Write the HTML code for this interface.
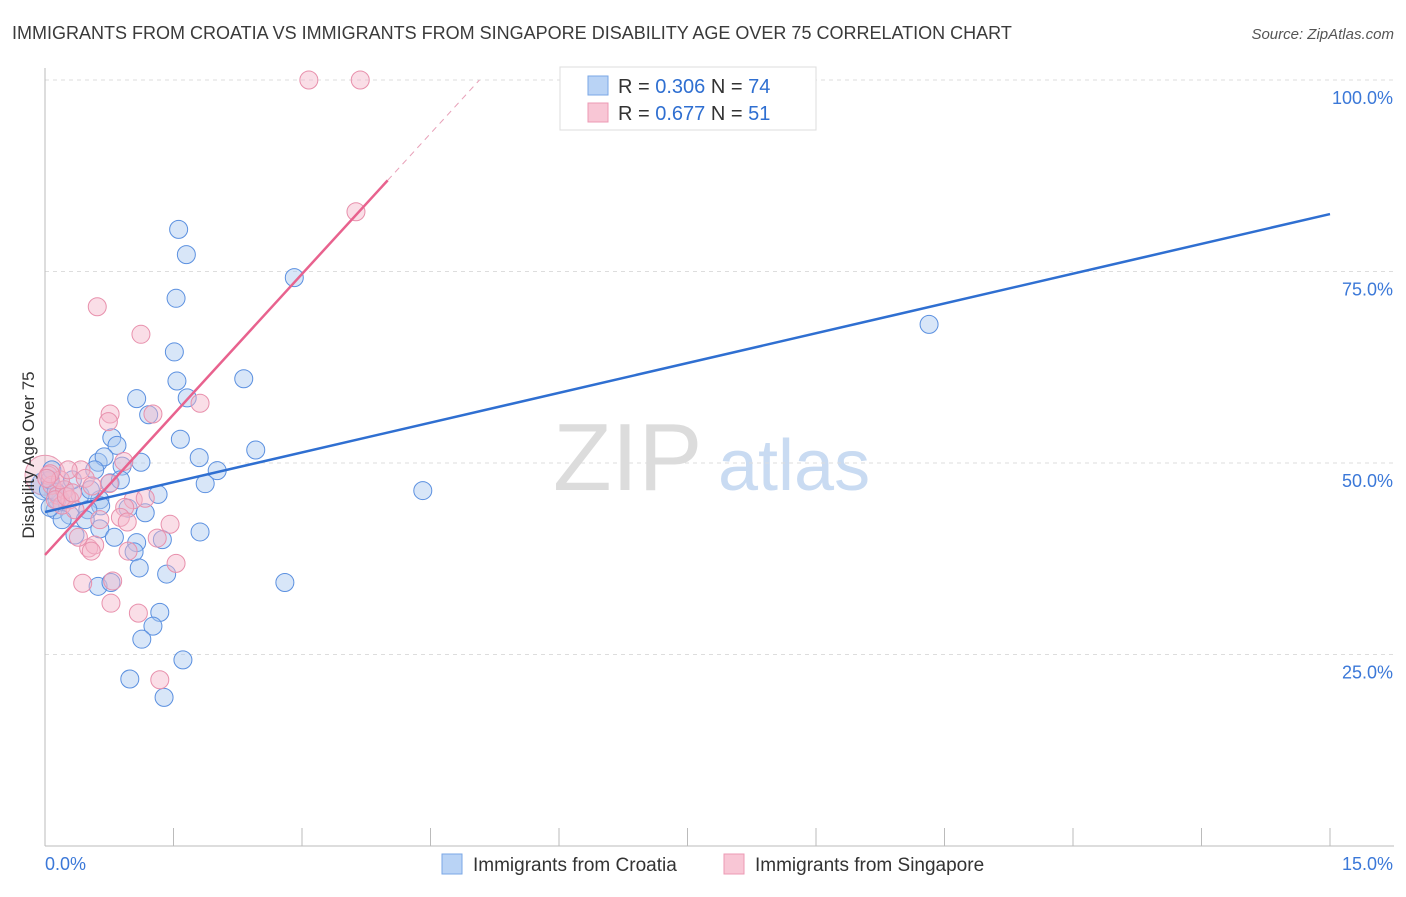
<!DOCTYPE html>
<html><head><meta charset="utf-8"><style>
body{margin:0;background:#fff;font-family:"Liberation Sans",sans-serif;}
svg text{font-family:"Liberation Sans",sans-serif;}
</style></head><body>
<svg id="chart" width="1406" height="892" xmlns="http://www.w3.org/2000/svg">
<text x="12" y="39" font-size="18" fill="#3a3a3a">IMMIGRANTS FROM CROATIA VS IMMIGRANTS FROM SINGAPORE DISABILITY AGE OVER 75 CORRELATION CHART</text>
<text x="1394" y="39" font-size="15" fill="#555" font-style="italic" text-anchor="end">Source: ZipAtlas.com</text>
<text x="553" y="490" font-size="96" fill="#dcdcdc" font-family="Liberation Serif, serif">ZIP</text>
<text x="718" y="490" font-size="72" fill="#c9dbf2">atlas</text>
<g id="grid"></g>
<g id="axes"></g>
<g id="marks"></g>
<text transform="translate(34,455) rotate(-90)" font-size="17" fill="#333" text-anchor="middle">Disability Age Over 75</text>
<g>
<rect x="560" y="67" width="256" height="63" fill="#fff" stroke="#ddd"/>
<rect x="588" y="76" width="20" height="19" fill="#b9d3f5" stroke="#7aa7e6"/>
<rect x="588" y="103" width="20" height="19" fill="#f8c6d5" stroke="#ec9ab4"/>
<text x="618" y="93" font-size="20" fill="#333">R = <tspan fill="#2f6fd1">0.306</tspan>   N = <tspan fill="#2f6fd1">74</tspan></text>
<text x="618" y="120" font-size="20" fill="#333">R =  <tspan fill="#2f6fd1">0.677</tspan>   N =  <tspan fill="#2f6fd1">51</tspan></text>
</g>
<g>
<rect x="442" y="854" width="20" height="20" fill="#b9d3f5" stroke="#7aa7e6"/>
<text x="473" y="871" font-size="19" fill="#333">Immigrants from Croatia</text>
<rect x="724" y="854" width="20" height="20" fill="#f8c6d5" stroke="#ec9ab4"/>
<text x="755" y="871" font-size="19" fill="#333">Immigrants from Singapore</text>
</g>
</svg>
<script>
const yTicks=[25,50,75,100];
const yTickLabels=["25.0%","50.0%","75.0%","100.0%"];
const xTickLabels=["0.0%","15.0%"];
const croatiaX=[1.56,1.65,1.53,2.91,10.32,1.51,1.54,2.32,1.07,1.66,1.21,1.58,0.78,0.84,2.46,0.62,0.69,0.90,1.12,1.80,2.01,1.87,0.76,1.32,4.41,0.64,0.65,0.97,1.17,0.50,0.18,0.12,0.29,0.20,0.35,0.64,0.81,1.81,1.07,1.37,1.04,1.10,1.42,0.62,0.77,2.80,1.34,1.26,1.13,1.61,0.99,1.39,0.04,0.06,0.08,0.14,0.23,0.41,0.53,0.32,0.47,0.88,0.58,0.06,0.13];
const croatiaY=[80.5,77.2,71.5,74.2,68.1,64.5,60.7,61.0,58.4,58.5,56.3,53.1,53.3,52.3,51.7,50.1,50.8,49.6,50.1,50.7,49.0,47.3,47.4,45.9,46.4,45.2,44.4,44.1,43.5,43.9,45.2,43.9,43.2,42.6,40.6,41.4,40.3,41.0,39.6,40.0,38.4,36.3,35.5,33.9,34.4,34.4,30.5,28.7,27.0,24.3,21.8,19.4,46.5,47.8,49.1,45.2,46.5,45.8,46.5,47.8,42.6,47.8,49.1,44.2,46.2];
const singaporeX=[3.08,3.68,3.63,0.61,1.12,1.81,0.76,0.74,1.26,0.92,0.42,1.03,0.75,0.93,1.17,0.88,0.96,1.46,1.31,0.51,0.58,0.54,0.97,1.53,0.44,0.79,0.77,1.09,1.34,0.04,0.08,0.15,0.20,0.23,0.29,0.35,0.12,0.18,0.27,0.47,0.55,0.64,0.39,0.25,0.32,0.06,0.02];
const singaporeY=[100,100,82.8,70.4,66.8,57.8,56.4,55.4,56.4,50.2,49.1,45.2,47.3,44.2,45.4,42.9,42.3,42.0,40.2,38.9,39.3,38.5,38.5,36.9,34.3,34.6,31.7,30.4,21.7,48.4,47.1,45.8,44.5,46.5,45.2,43.9,45.2,47.8,49.1,48.0,47.0,42.6,40.3,45.6,46.1,48.6,48.0];
const blueLine=[43.6,82.5];
const pinkLine=[38.0,86.9];
const pinkSolidEnd=4.0;
const NS="http://www.w3.org/2000/svg";
const X0=45,X1=1330,Y0=846,Y100=80;
const xs=v=>X0+v*(X1-X0)/15;
const ys=v=>Y0-v*(Y0-Y100)/100;
function mk(tag,attrs,parent){const e=document.createElementNS(NS,tag);for(const k in attrs)e.setAttribute(k,attrs[k]);parent.appendChild(e);return e;}
const grid=document.getElementById('grid'),axes=document.getElementById('axes'),marks=document.getElementById('marks');
yTicks.forEach((t,i)=>{
 const l=mk('line',{x1:45,x2:1394,y1:ys(t),y2:ys(t),stroke:'#ddd','stroke-dasharray':'4,4'},grid);
 
 
 const tx=mk('text',{x:1393,y:ys(t)+24,'font-size':18,fill:'#3b78d8','text-anchor':'end'},axes);
 tx.textContent=yTickLabels[i];
 
 
});
const ax=mk('line',{x1:45,x2:1394,y1:846,y2:846,stroke:'#bbb'},axes);


const ay=mk('line',{x1:45,x2:45,y1:68,y2:846,stroke:'#bbb'},axes);


for(let i=0;i<=10;i++){
 const t=mk('line',{x1:xs(i*1.5),x2:xs(i*1.5),y1:828,y2:846,stroke:'#bbb'},axes);
 
 
}
[[0,'start',45],[15,'end',1393]].forEach((d,i)=>{
 const tx=mk('text',{x:d[2],y:870,'font-size':18,fill:'#3b78d8','text-anchor':d[1]},axes);
 tx.textContent=xTickLabels[i];
 
 
});
// big bubbles near origin
[[0,48.4,20,'#e89ab3'],[0,47,14,'#7aa7e6']].forEach(b=>{
 const c=mk('circle',{cx:xs(b[0]),cy:ys(b[1]),r:b[2],fill:b[3],'fill-opacity':0.3,stroke:b[3]},marks);
 
 
});
croatiaX.forEach((v,i)=>{
 const c=mk('circle',{cx:xs(v),cy:ys(croatiaY[i]),r:9,fill:'#a9c8f0','fill-opacity':0.45,stroke:'#5b90e0','stroke-width':1},marks);
 
 
});
singaporeX.forEach((v,i)=>{
 const c=mk('circle',{cx:xs(v),cy:ys(singaporeY[i]),r:9,fill:'#f5b6c9','fill-opacity':0.45,stroke:'#e890ac','stroke-width':1},marks);
 
 
});
const bl=mk('line',{x1:xs(0),y1:ys(blueLine[0]),x2:xs(15),y2:ys(blueLine[1]),stroke:'#2f6fd1','stroke-width':2.5},marks);


const ps=(pinkLine[1]-pinkLine[0])/pinkSolidEnd;
const pl=mk('line',{x1:xs(0),y1:ys(pinkLine[0]),x2:xs(pinkSolidEnd),y2:ys(pinkLine[1]),stroke:'#e8628e','stroke-width':2.5},marks);


const xEnd=(100-pinkLine[0])/ps;
const pd=mk('line',{x1:xs(pinkSolidEnd),y1:ys(pinkLine[1]),x2:xs(xEnd),y2:ys(100),stroke:'#e8a0b8','stroke-width':1,'stroke-dasharray':'6,5'},marks);


</script>
</body></html>
